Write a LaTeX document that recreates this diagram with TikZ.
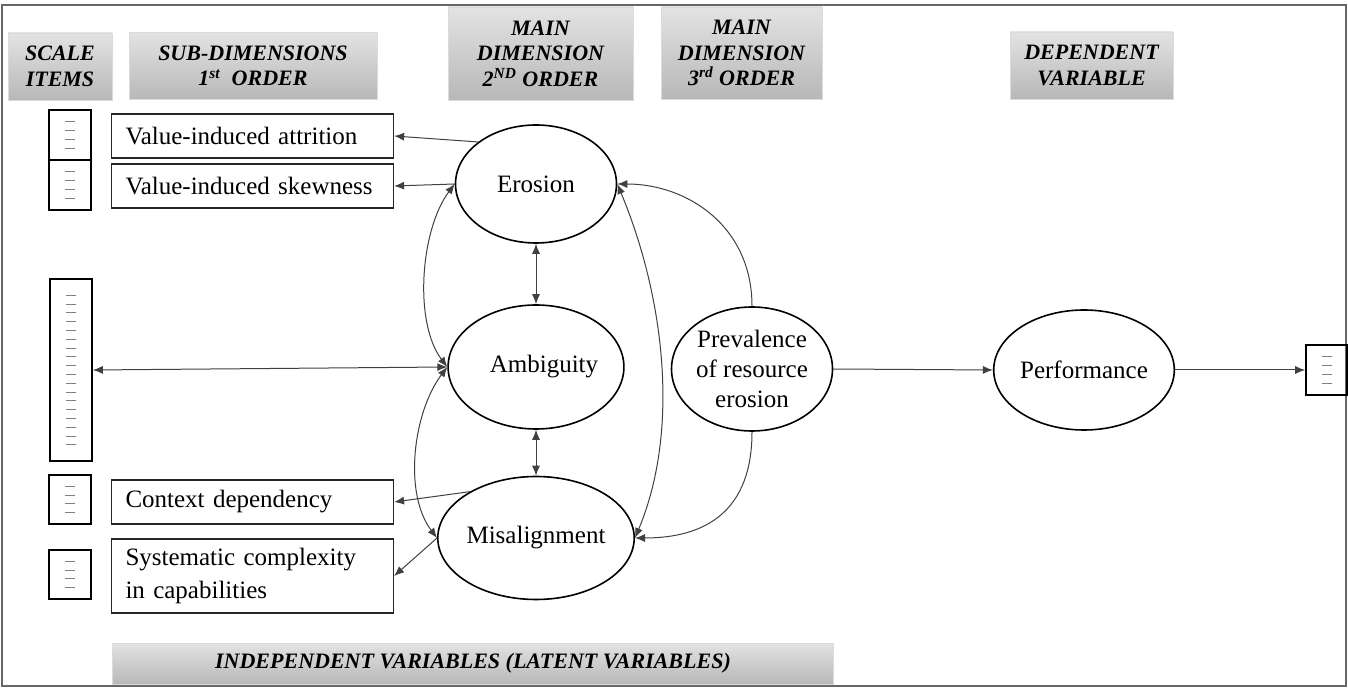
\documentclass[tikz,border=0pt]{standalone}
\usepackage{fontspec}
\setmainfont{Liberation Serif}
\usetikzlibrary{arrows.meta,positioning,calc,shapes.geometric}

\tikzset{
  hdr/.style={top color=black!11, bottom color=black!28, draw=black!14, align=center, inner sep=0pt, font=\fontsize{11}{12.8}\selectfont\bfseries\itshape},
  subbox/.style={draw=black!85, line width=0.6pt, align=left, text width=127pt, inner xsep=7pt, minimum height=22pt},
  itembox/.style={draw, line width=0.8pt, minimum width=21pt, inner sep=0pt},
  latent/.style={draw, ellipse, line width=0.8pt, minimum width=80.5pt, minimum height=61pt, inner sep=0pt, align=center},
  link/.style={draw=black!75, line width=0.5pt, -{Latex[length=5pt,width=4pt]}},
  dlink/.style={link, {Latex[length=5pt,width=4pt]}-{Latex[length=5pt,width=4pt]}},
  tick/.style={draw=black!50, line width=0.4pt},
}

\begin{document}
\begin{tikzpicture}[x=0.5pt, y=-0.5pt, every node/.style={font=\fontsize{12.5}{15}\selectfont}]
    \useasboundingbox (0,0) rectangle (1348,688);
    \draw[black!60, line width=0.7pt] (2,5) rectangle (1346,686);

    % column headers
    \node[hdr, minimum width=52pt, minimum height=33.5pt] (scale) at (60,66.5) {SCALE\\ITEMS};
    \node[hdr, minimum width=124pt, minimum height=33.5pt] (subdim) at (253,66) {SUB-DIMENSIONS\\1\textsuperscript{st}\ \ ORDER};
    \node[hdr, minimum width=92.5pt, minimum height=46.5pt] (main2) at (540.5,53.5) {MAIN\\DIMENSION\\2\textsuperscript{ND} ORDER};
    \node[hdr, minimum width=80.5pt, minimum height=46pt] (main3) at (741.5,53) {MAIN\\DIMENSION\\3\textsuperscript{rd} ORDER};
    \node[hdr, minimum width=81.5pt, minimum height=33.5pt] (dep) at (1091.5,65.5) {DEPENDENT\\VARIABLE};
    \node[hdr, minimum width=360.5pt, minimum height=20.5pt] (indep) at (473,663.5) {INDEPENDENT VARIABLES (LATENT VARIABLES)};

    % scale items
    \node[itembox, minimum height=25pt] (it1) at (70,135) {};
    \node[itembox, minimum height=25pt] (it2) at (70,185) {};
    \node[itembox, minimum height=91pt] (itbig) at (71,370) {};
    \node[itembox, minimum height=24.5pt] (it3) at (70,499.5) {};
    \node[itembox, minimum height=24.5pt] (it4) at (70,574.5) {};
    \node[itembox, minimum width=20.5pt, minimum height=25pt] (itperf) at (1326.5,370) {};
    \foreach \b/\n in {it1/4,it2/4,it3/4,it4/4,itperf/4,itbig/18}
      \foreach \k in {1,...,\n}
        \draw[tick] ($(\b.center)+(-5,{(\k-(\n+1)/2)*8.8})$) -- +(10,0);

    % first order
    \node[subbox] (attr) at (252.5,136) {Value-induced attrition};
    \node[subbox] (skew) at (252.5,186) {Value-induced skewness};
    \node[subbox] (ctx) at (252.5,502) {Context dependency};
    \node[subbox, minimum height=37pt, font=\fontsize{12.5}{16.5}\selectfont] (sys) at (252.5,576) {Systematic complexity\\in capabilities};

    % latent variables
    \node[latent, minimum height=59pt] (ero) at (536,184) {Erosion};
    \node[latent, minimum height=62pt] (amb) at (536,367) {\hspace{8pt}Ambiguity};
    \node[latent, minimum height=61.5pt] (mis) at (536,538) {Misalignment};
    \node[latent, minimum height=62pt] (prev) at (752,369) {Prevalence\\of resource\\erosion};
    \node[latent, minimum height=60pt] (perf) at (1084,370) {Performance};

    \draw[link] (ero.144) -- (attr.east);
    \draw[link] (ero.west) -- (skew.east);
    \draw[dlink] (ero.west) .. controls +(-34,45) and +(-34,-45) .. (amb.west);
    \draw[dlink] (itbig.east) -- (amb.west);
    \draw[dlink] (amb.west) .. controls +(-34,45) and +(-34,-45) .. (mis.west);
    \draw[link] (mis.145) -- (ctx.east);
    \draw[link] (mis.west) -- (sys.east);
    \draw[dlink] (ero.south) -- (amb.north);
    \draw[dlink] (amb.south) -- (mis.north);
    \draw[dlink] (ero.east) .. controls +(46,110) and +(46,-110) .. (mis.east);
    \draw[link] (prev.north) .. controls +(0,-80) and +(70,0) .. (ero.east);
    \draw[link] (prev.south) .. controls +(0,80) and +(70,0) .. (mis.east);
    \draw[link] (prev.east) -- (perf.west);
    \draw[link] (perf.east) -- (itperf.west);
  \end{tikzpicture}
\end{document}
